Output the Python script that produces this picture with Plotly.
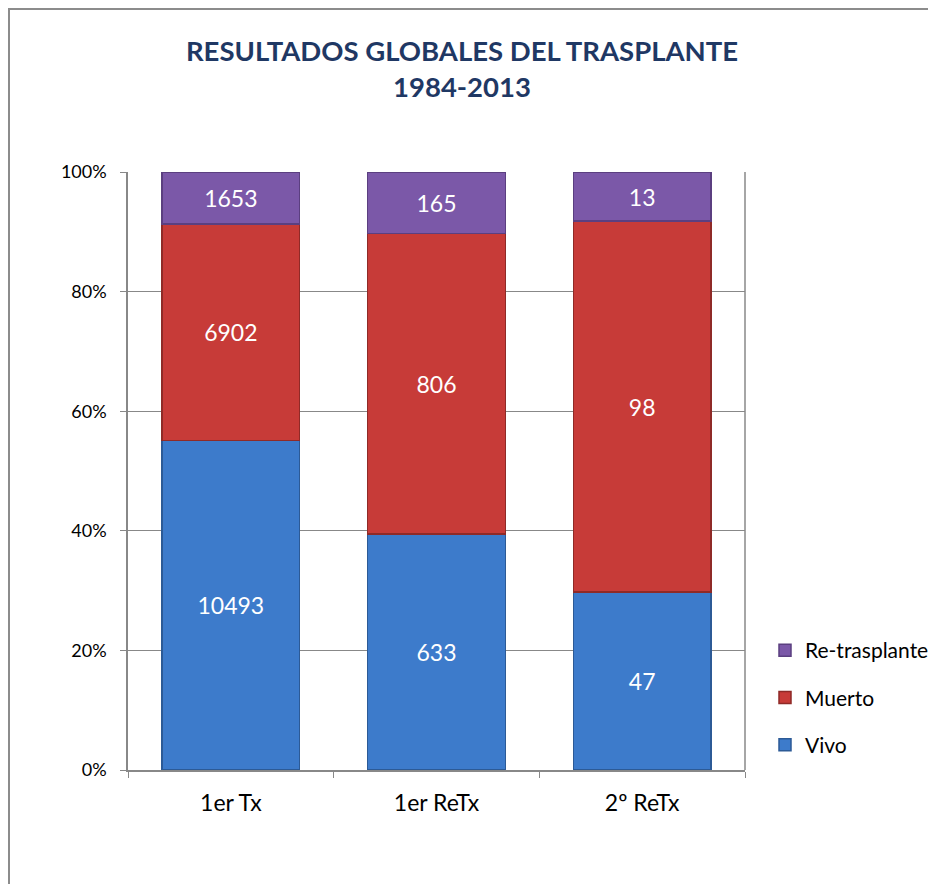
import plotly.graph_objects as go

categories = ["1er Tx", "1er ReTx", "2º ReTx"]
vivo = [10493, 633, 47]
muerto = [6902, 806, 98]
retrasplante = [1653, 165, 13]
series_names = ["Vivo", "Muerto", "Re-trasplante"]
y_tick_vals = [0, 20, 40, 60, 80, 100]
y_tick_text = ["0%", "20%", "40%", "60%", "80%", "100%"]

colors = ["#3d7bcb", "#c73b38", "#7b58a8"]
edge = ["#2c5a96", "#8f2a27", "#5b3f80"]
ranks = [3, 2, 1]

FONT = "Lato, Open Sans, sans-serif"

fig = go.Figure()
for name, vals, c, e, rk in zip(series_names, [vivo, muerto, retrasplante], colors, edge, ranks):
    fig.add_trace(go.Bar(
        name=name, x=categories, y=vals, legendgroup=name, legendrank=rk,
        text=[str(v) for v in vals], textposition="inside",
        insidetextanchor="middle",
        textfont=dict(color="white", size=23, family=FONT),
        marker=dict(color=c, line=dict(color=e, width=1.5)),
    ))

# figure coordinates = page coordinates - 8 (body margin)
W, H = 928, 876
L, T = 120, 164
R = W - 737
B = H - 762
pw, ph = W - L - R, H - T - B

fig.update_layout(
    width=W, height=H,
    barmode="stack", barnorm="percent", bargap=0.33,
    margin=dict(l=L, r=R, t=T, b=B, autoexpand=False),
    paper_bgcolor="white", plot_bgcolor="white",
    title=dict(
        text="<b>RESULTADOS GLOBALES DEL TRASPLANTE<br>1984-2013</b>",
        x=454 / W, xanchor="center", y=1 - 53 / H, yanchor="middle",
        font=dict(family=FONT, size=27.5, color="#1f3864"),
    ),
    legend=dict(
        x=(757 - L) / pw, xanchor="left", y=(762 - 622) / ph, yanchor="top",
        font=dict(family=FONT, size=21, color="black"),
        traceorder="grouped", tracegroupgap=17, itemwidth=30,
        bgcolor="rgba(0,0,0,0)",
    ),
    xaxis=dict(
        showline=True, linecolor="#888888", linewidth=1.5,
        ticks="outside", tickson="boundaries", ticklen=6, tickcolor="#888888",
        tickfont=dict(family=FONT, size=23, color="black"),
        ticklabelstandoff=12,
        showgrid=False,
    ),
    yaxis=dict(
        range=[0, 100], tickvals=y_tick_vals, ticktext=y_tick_text,
        showline=True, linecolor="#888888", linewidth=1.5,
        ticks="outside", ticklen=6, tickcolor="#888888",
        tickfont=dict(family=FONT, size=18, color="black"),
        ticklabelstandoff=10,
        showgrid=True, gridcolor="#888888", gridwidth=1.2,
        zeroline=False,
    ),
    shapes=[
        dict(type="line", xref="paper", yref="paper", x0=1, x1=1, y0=0, y1=1,
             line=dict(color="#888888", width=1.5)),
        dict(type="line", xref="paper", yref="paper",
             x0=(1 - L) / pw, x1=(1 - L) / pw, y0=(762 + 1) / ph, y1=(762 - 900) / ph,
             line=dict(color="#8c8c8c", width=2)),
        dict(type="line", xref="paper", yref="paper",
             x0=(1 - L) / pw, x1=(940 - L) / pw, y0=(762 - 1) / ph, y1=(762 - 1) / ph,
             line=dict(color="#8c8c8c", width=2)),
    ],
)

fig.write_html("out.html")
